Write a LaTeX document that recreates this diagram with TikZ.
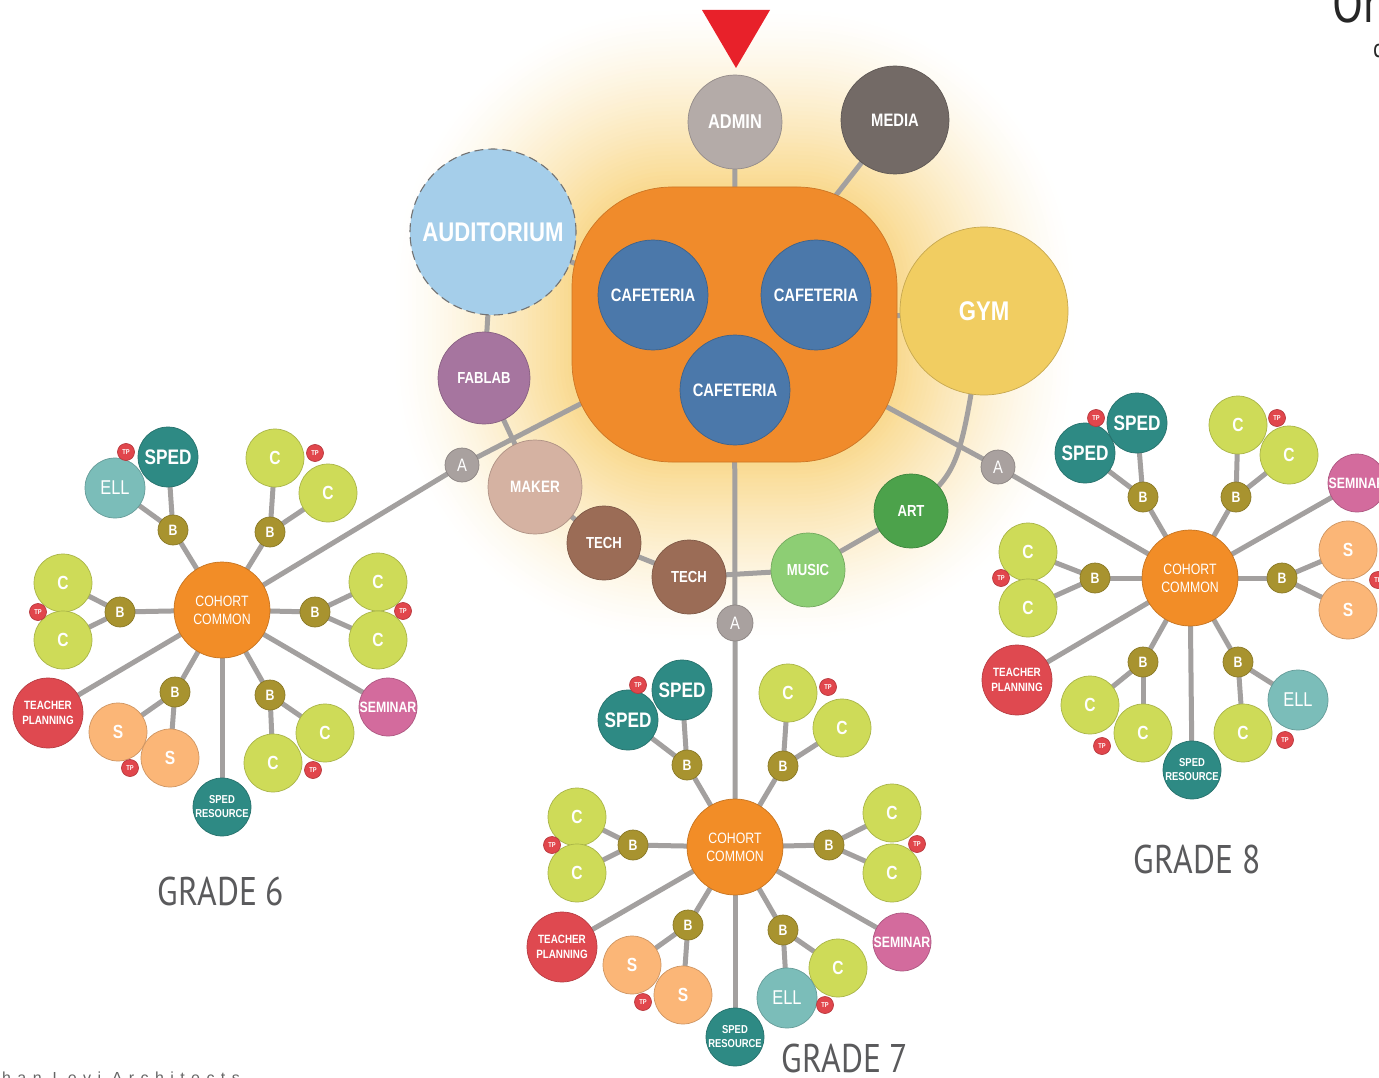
\documentclass[tikz,border=0pt]{standalone}
\usepackage{fontspec}
\newfontfamily\nf{Liberation Sans}[FakeStretch=0.82]
\newfontfamily\gf{PT Sans}[FakeStretch=0.84]
\newfontfamily\ff{Liberation Sans}[LetterSpace=40]
\definecolor{lineg}{HTML}{A3A09F}
\definecolor{agray}{HTML}{A9A19F}
\definecolor{bgold}{HTML}{A8932F}
\definecolor{cgreen}{HTML}{CEDB58}
\definecolor{tpred}{HTML}{E1464C}
\definecolor{spedc}{HTML}{2E8A84}
\definecolor{ellc}{HTML}{7BBDB9}
\definecolor{sor}{HTML}{FBB677}
\definecolor{tplan}{HTML}{DF4950}
\definecolor{semc}{HTML}{D36B9D}
\definecolor{ccor}{HTML}{F28D27}
\definecolor{hubor}{HTML}{F08B2B}
\definecolor{cafc}{HTML}{4B78AA}
\definecolor{admc}{HTML}{B4ABA8}
\definecolor{medc}{HTML}{736A66}
\definecolor{audc}{HTML}{A5CEEA}
\definecolor{gymc}{HTML}{F1CD61}
\definecolor{fabc}{HTML}{A6759F}
\definecolor{makc}{HTML}{D5B2A2}
\definecolor{techc}{HTML}{9B6C56}
\definecolor{musc}{HTML}{8DCE74}
\definecolor{artc}{HTML}{4CA24B}
\definecolor{tric}{HTML}{E8212A}
\definecolor{gtext}{HTML}{5A5A5C}
\definecolor{glowA}{HTML}{F9D98E}
\pgfdeclarelayer{bg}
\pgfdeclarelayer{lines}
\pgfsetlayers{bg,lines,main}
\begin{document}
\begin{tikzpicture}[x=1pt,y=-1pt,
  bub/.style={circle, inner sep=0pt, fill=#1, draw=#1!82!black, line width=0.7pt, text=white, align=center},
  conn/.style={draw=lineg, line width=5pt},
  cN/.style={bub=cgreen, minimum size=58, font=\nf\bfseries\fontsize{19}{19}\selectfont},
  bN/.style={bub=bgold, minimum size=30, font=\nf\bfseries\fontsize{15}{15}\selectfont},
  tpN/.style={bub=tpred, minimum size=17, font=\nf\bfseries\fontsize{7}{7}\selectfont},
  spedN/.style={bub=spedc, minimum size=60, font=\nf\bfseries\fontsize{21}{21}\selectfont},
  ellN/.style={bub=ellc, minimum size=60, font=\nf\fontsize{20}{20}\selectfont},
  sN/.style={bub=sor, minimum size=58, font=\nf\bfseries\fontsize{19}{19}\selectfont},
  tplN/.style={bub=tplan, minimum size=70, font=\nf\bfseries\fontsize{12}{14.5}\selectfont},
  srN/.style={bub=spedc, minimum size=58, font=\nf\bfseries\fontsize{11.5}{14}\selectfont},
  semN/.style={bub=semc, minimum size=58, font=\nf\bfseries\fontsize{15}{15}\selectfont},
  ccN/.style={bub=ccor, minimum size=96, font=\nf\fontsize{15}{18}\selectfont},
  aN/.style={bub=agray, minimum size=34, font=\nf\fontsize{18}{18}\selectfont},
  midN/.style={minimum size=74, font=\nf\bfseries\fontsize{16}{16}\selectfont},
  cafN/.style={bub=cafc, minimum size=110, font=\nf\bfseries\fontsize{18}{18}\selectfont},
  grade/.style={text=gtext, font=\gf\fontsize{40}{40}\selectfont, anchor=base, inner sep=0pt}
]
\useasboundingbox (0,0) rectangle (1379,1078);
\begin{pgfonlayer}{bg}
\fill[white] (0,0) rectangle (1379,1078);
\foreach \d in {180,176,...,0} {
  \pgfmathsetmacro\f{100*(1-\d/180)^1.35}
  \pgfmathsetmacro\r{100+\d}
  \fill[glowA!\f!white, rounded corners=\r] (572-\d,187-\d) rectangle (897+\d,462+\d);
}
\end{pgfonlayer}

% ---------- central hub ----------
\fill[tric] (702,10) -- (770,10) -- (736,68) -- cycle;
\node[rectangle, rounded corners=100, minimum width=325, minimum height=275, inner sep=0pt, fill=hubor, draw=hubor!85!black, line width=0.7pt] (hub) at (734.5,324.5) {};
\node[cafN] (caf1) at (653,295) {CAFETERIA};
\node[cafN] (caf2) at (816,295) {CAFETERIA};
\node[cafN] (caf3) at (735,390) {CAFETERIA};
\node[bub=admc, minimum size=94, font=\nf\bfseries\fontsize{20}{20}\selectfont] (admin) at (735,122) {ADMIN};
\node[bub=medc, minimum size=108, font=\nf\bfseries\fontsize{18}{18}\selectfont] (media) at (895,120) {MEDIA};
\node[bub=audc, draw=black!55, line width=1.1pt, dash pattern=on 9pt off 5pt, minimum size=166, font=\nf\bfseries\fontsize{27}{27}\selectfont] (aud) at (493,232) {AUDITORIUM};
\node[bub=gymc, minimum size=168, font=\nf\bfseries\fontsize{27}{27}\selectfont] (gym) at (984,311) {GYM};
\node[bub=fabc, minimum size=92, font=\nf\bfseries\fontsize{16}{16}\selectfont] (fab) at (484,378) {FABLAB};
\node[bub=makc, minimum size=94, font=\nf\bfseries\fontsize{16.5}{16.5}\selectfont] (maker) at (535,487) {MAKER};
\node[bub=techc, midN] (tech1) at (604,543) {TECH};
\node[bub=techc, midN] (tech2) at (689,577) {TECH};
\node[bub=musc, midN] (music) at (808,570) {MUSIC};
\node[bub=artc, midN] (art) at (911,511) {ART};
\node[aN] (a6) at (462,465) {A};
\node[aN] (a8) at (998,467) {A};
\node[aN, minimum size=36] (a7) at (735,623) {A};

% ---------- grade 6 ----------
\node[ccN] (fcc) at (222,610) {COHORT\\COMMON};
\node[bN] (fb1) at (173,530) {B};
\node[ellN] (fell) at (115,488) {ELL};
\node[spedN] (fsped) at (168,457) {SPED};
\node[tpN] (ftp1) at (126,452) {TP};
\node[bN] (fb2) at (270,532) {B};
\node[cN] (fc1) at (275,458) {C};
\node[cN] (fc2) at (328,493) {C};
\node[tpN] (ftp2) at (315,453) {TP};
\node[bN] (fb3) at (120,612) {B};
\node[cN] (fc3) at (63,583) {C};
\node[cN] (fc4) at (63,640) {C};
\node[tpN] (ftp3) at (38,612) {TP};
\node[bN] (fb4) at (315,612) {B};
\node[cN] (fc5) at (378,582) {C};
\node[cN] (fc6) at (378,640) {C};
\node[tpN] (ftp4) at (403,611) {TP};
\node[tplN] (ftpl) at (48,713) {TEACHER\\PLANNING};
\node[bN] (fb5) at (175,692) {B};
\node[sN] (fs1) at (118,732) {S};
\node[sN] (fs2) at (170,758) {S};
\node[tpN] (ftp5) at (130,768) {TP};
\node[srN] (fsr) at (222,807) {SPED\\RESOURCE};
\node[bN] (fb6) at (270,695) {B};
\node[cN] (fc7) at (325,733) {C};
\node[cN] (fc8) at (273,763) {C};
\node[tpN] (ftp6) at (313,770) {TP};
\node[semN] (fsem) at (388,707) {SEMINAR};
\node[grade] (g6) at (221,905) {GRADE 6};

% ---------- grade 7 ----------
\node[ccN] (scc) at (735,847) {COHORT\\COMMON};
\node[bN] (sb1) at (687,765) {B};
\node[spedN] (ssped1) at (682,690) {SPED};
\node[spedN] (ssped2) at (628,720) {SPED};
\node[tpN] (stp1) at (638,685) {TP};
\node[bN] (sb2) at (783,766) {B};
\node[cN] (sc1) at (788,693) {C};
\node[cN] (sc2) at (842,728) {C};
\node[tpN] (stp2) at (828,687) {TP};
\node[bN] (sb3) at (633,845) {B};
\node[cN] (sc3) at (577,817) {C};
\node[cN] (sc4) at (577,873) {C};
\node[tpN] (stp3) at (552,845) {TP};
\node[bN] (sb4) at (829,845) {B};
\node[cN] (sc5) at (892,813) {C};
\node[cN] (sc6) at (892,873) {C};
\node[tpN] (stp4) at (917,844) {TP};
\node[tplN] (stpl) at (562,947) {TEACHER\\PLANNING};
\node[bN] (sb5) at (688,925) {B};
\node[sN] (ss1) at (632,965) {S};
\node[sN] (ss2) at (683,995) {S};
\node[tpN] (stp5) at (643,1002) {TP};
\node[srN] (ssr) at (735,1037) {SPED\\RESOURCE};
\node[bN] (sb6) at (783,930) {B};
\node[cN] (sc7) at (838,968) {C};
\node[ellN] (sell) at (787,998) {ELL};
\node[tpN] (stp6) at (825,1005) {TP};
\node[semN] (ssem) at (902,942) {SEMINAR};
\node[grade] (g7) at (845,1072) {GRADE 7};

% ---------- grade 8 ----------
\node[ccN] (ecc) at (1190,578) {COHORT\\COMMON};
\node[bN] (eb1) at (1143,497) {B};
\node[spedN] (esped1) at (1137,423) {SPED};
\node[spedN] (esped2) at (1085,453) {SPED};
\node[tpN] (etp1) at (1096,418) {TP};
\node[bN] (eb2) at (1236,497) {B};
\node[cN] (ec1) at (1238,425) {C};
\node[cN] (ec2) at (1289,455) {C};
\node[tpN] (etp2) at (1277,418) {TP};
\node[bN] (eb3) at (1095,578) {B};
\node[cN] (ec3) at (1028,552) {C};
\node[cN] (ec4) at (1028,608) {C};
\node[tpN] (etp3) at (1001,578) {TP};
\node[bN] (eb4) at (1282,578) {B};
\node[sN] (es1) at (1348,550) {S};
\node[sN] (es2) at (1348,610) {S};
\node[tpN] (etp4) at (1378,580) {TP};
\node[semN] (esem) at (1357,483) {SEMINAR};
\node[tplN] (etpl) at (1017,680) {TEACHER\\PLANNING};
\node[bN] (eb5) at (1143,662) {B};
\node[cN] (ec5) at (1090,705) {C};
\node[cN] (ec6) at (1143,733) {C};
\node[tpN] (etp5) at (1102,746) {TP};
\node[srN] (esr) at (1192,770) {SPED\\RESOURCE};
\node[bN] (eb6) at (1238,662) {B};
\node[ellN] (eell) at (1298,700) {ELL};
\node[cN] (ec7) at (1243,733) {C};
\node[tpN] (etp6) at (1285,740) {TP};
\node[grade] (g8) at (1197,873) {GRADE 8};

% ---------- clipped texts at the edges ----------
\node[text=black!85, font=\gf\fontsize{54}{54}\selectfont, anchor=base west, inner sep=0pt] (ttl) at (1332,23) {Or};
\node[text=black!85, font=\gf\fontsize{26}{26}\selectfont, anchor=base west, inner sep=0pt] (sub) at (1373,58) {c};
\node[text=black!60, font=\ff\fontsize{16}{16}\selectfont, anchor=base west, inner sep=0pt] (credit) at (2,1083) {han Levi Architects};

% ---------- connectors ----------
\begin{pgfonlayer}{lines}
\draw[conn] (admin.center) -- (hub.center);
\draw[conn] (media.center) -- (hub.center);
\draw[conn] (aud.center) -- (hub.center);
\draw[conn] (gym.center) -- (hub.center);
\draw[conn] (aud.center) -- (fab.center);
\draw[conn] (fab.center) -- (maker.center);
\draw[conn] (maker.center) -- (tech1.center);
\draw[conn] (tech1.center) -- (tech2.center);
\draw[conn] (tech2.center) -- (music.center);
\draw[conn] (music.center) -- (art.center);
\draw[conn] (art.center) .. controls (960,470) .. (gym.center);
\draw[conn] (hub.center) -- (a6.center) -- (fcc.center);
\draw[conn] (hub.center) -- (a7.center) -- (scc.center);
\draw[conn] (hub.center) -- (a8.center) -- (ecc.center);
% grade 6
\foreach \b in {fb1,fb2,fb3,fb4,fb5,fb6,ftpl,fsr,fsem} \draw[conn] (fcc.center) -- (\b.center);
\draw[conn] (fb1.center) -- (fsped.center); \draw[conn] (fb1.center) -- (fell.center);
\draw[conn] (fb2.center) -- (fc1.center); \draw[conn] (fb2.center) -- (fc2.center);
\draw[conn] (fb3.center) -- (fc3.center); \draw[conn] (fb3.center) -- (fc4.center);
\draw[conn] (fb4.center) -- (fc5.center); \draw[conn] (fb4.center) -- (fc6.center);
\draw[conn] (fb5.center) -- (fs1.center); \draw[conn] (fb5.center) -- (fs2.center);
\draw[conn] (fb6.center) -- (fc7.center); \draw[conn] (fb6.center) -- (fc8.center);
% grade 7
\foreach \b in {sb1,sb2,sb3,sb4,sb5,sb6,stpl,ssr,ssem} \draw[conn] (scc.center) -- (\b.center);
\draw[conn] (sb1.center) -- (ssped1.center); \draw[conn] (sb1.center) -- (ssped2.center);
\draw[conn] (sb2.center) -- (sc1.center); \draw[conn] (sb2.center) -- (sc2.center);
\draw[conn] (sb3.center) -- (sc3.center); \draw[conn] (sb3.center) -- (sc4.center);
\draw[conn] (sb4.center) -- (sc5.center); \draw[conn] (sb4.center) -- (sc6.center);
\draw[conn] (sb5.center) -- (ss1.center); \draw[conn] (sb5.center) -- (ss2.center);
\draw[conn] (sb6.center) -- (sc7.center); \draw[conn] (sb6.center) -- (sell.center);
% grade 8
\foreach \b in {eb1,eb2,eb3,eb4,eb5,eb6,etpl,esr,esem} \draw[conn] (ecc.center) -- (\b.center);
\draw[conn] (eb1.center) -- (esped1.center); \draw[conn] (eb1.center) -- (esped2.center);
\draw[conn] (eb2.center) -- (ec1.center); \draw[conn] (eb2.center) -- (ec2.center);
\draw[conn] (eb3.center) -- (ec3.center); \draw[conn] (eb3.center) -- (ec4.center);
\draw[conn] (eb4.center) -- (es1.center); \draw[conn] (eb4.center) -- (es2.center);
\draw[conn] (eb5.center) -- (ec5.center); \draw[conn] (eb5.center) -- (ec6.center);
\draw[conn] (eb6.center) -- (eell.center); \draw[conn] (eb6.center) -- (ec7.center);
\end{pgfonlayer}
\end{tikzpicture}
\end{document}
